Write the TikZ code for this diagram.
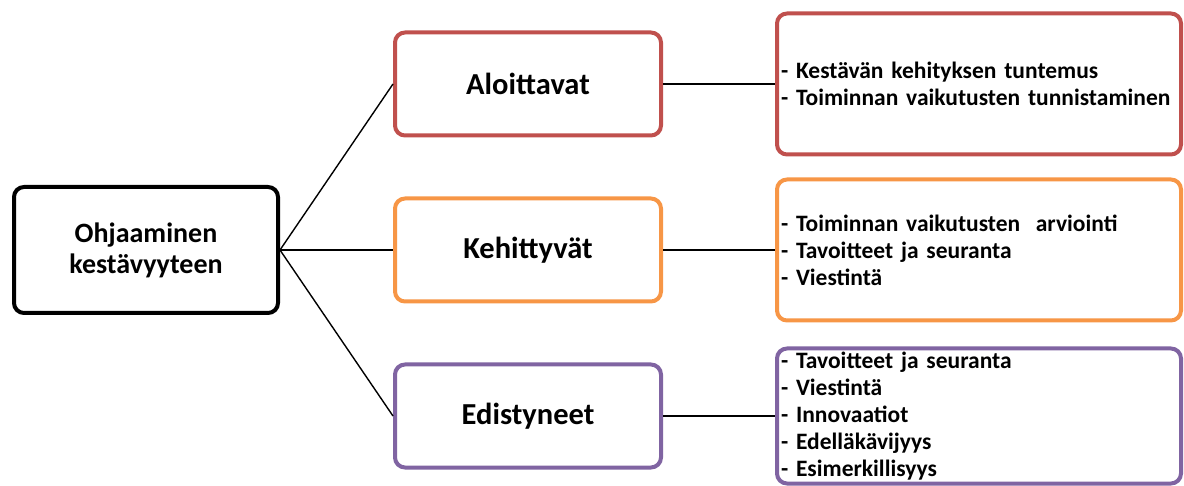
\documentclass[tikz,border=0pt]{standalone}
\usepackage{fontspec}
\setmainfont{Carlito}
\usepackage{tikz}
\usetikzlibrary{positioning}
\definecolor{levelred}{HTML}{C0504D}
\definecolor{levelorange}{HTML}{F79646}
\definecolor{levelpurple}{HTML}{8064A2}

\begin{document}
\begin{tikzpicture}[
  grow'=right,
  parent anchor=east, child anchor=west,
  edge from parent/.style={draw=black, line width=1.4pt},
  level 1/.style={sibling distance=166pt, level distance=382pt},
  level 2/.style={level distance=451pt},
  every node/.style={rectangle, rounded corners=10pt, line width=4pt, fill=white, font=\bfseries},
  rootbox/.style={draw=black, minimum width=264pt, minimum height=126pt, align=center, font=\bfseries\fontsize{28}{31}\selectfont},
  levelbox/.style={draw=#1, minimum width=266pt, minimum height=103pt, font=\bfseries\fontsize{30.5}{34}\selectfont},
  listbox/.style={draw=#1, minimum height=141pt, text width=396pt, inner xsep=4pt, align=left, font=\bfseries\fontsize{23.5}{27}\selectfont}
]
  \useasboundingbox (0,0) rectangle (1184pt,-486pt);
  \node[rootbox] (root) at (146pt,-250pt) {Ohjaaminen\\kestävyyteen}
    child {node[levelbox=levelred] (aloittavat) {Aloittavat}
      child {node[listbox=levelred] (aloittavatlist) {- Kestävän kehityksen tuntemus\\- Toiminnan vaikutusten tunnistaminen}}
    }
    child {node[levelbox=levelorange] (kehittyvat) {Kehittyvät}
      child {node[listbox=levelorange] (kehittyvatlist) {- Toiminnan vaikutusten~ arviointi\\- Tavoitteet ja seuranta\\- Viestintä}}
    }
    child {node[levelbox=levelpurple] (edistyneet) {Edistyneet}
      child {node[listbox=levelpurple, minimum height=135pt] (edistyneetlist) {- Tavoitteet ja seuranta\\- Viestintä\\- Innovaatiot\\- Edelläkävijyys\\- Esimerkillisyys}}
    };
\end{tikzpicture}
\end{document}
